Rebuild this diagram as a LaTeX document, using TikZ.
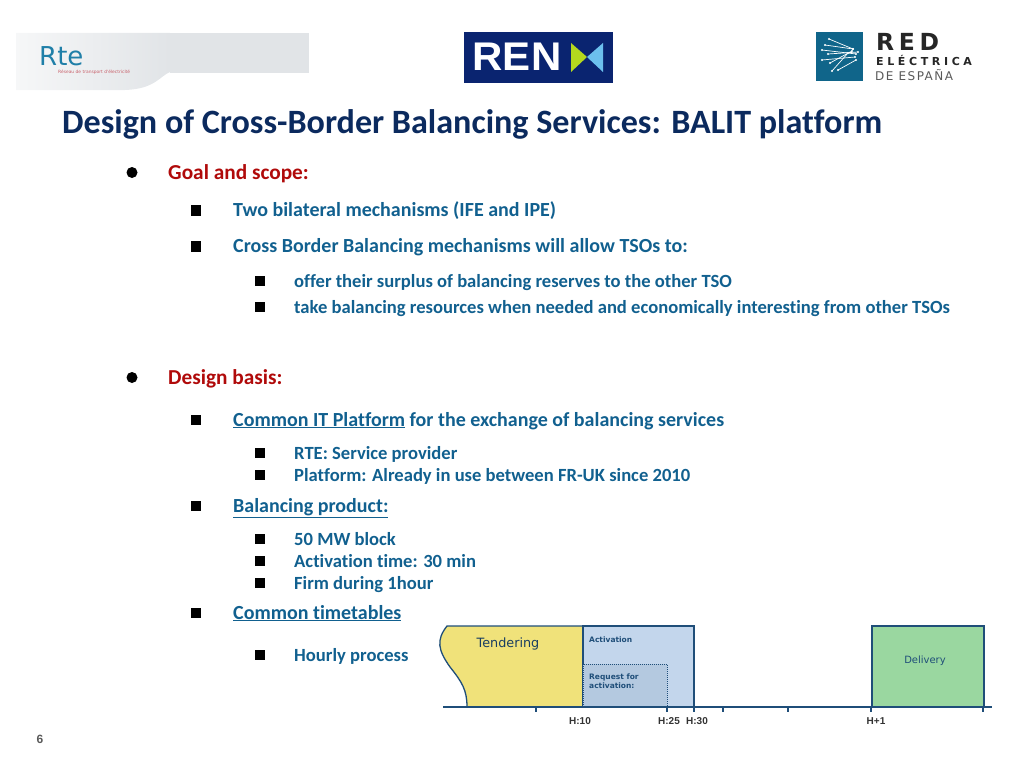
\documentclass[tikz,border=0pt]{standalone}
\usepackage{fontspec}
\setmainfont[Ligatures=NoCommon]{Carlito}
\newfontfamily\chartfont{DejaVu Sans}
\newfontfamily\axisfont{Liberation Sans}
\usepackage{xcolor}
\definecolor{titleblue}{HTML}{0B2A5E}
\definecolor{textblue}{HTML}{11608F}
\definecolor{headred}{HTML}{B00A0A}
\definecolor{axisblue}{HTML}{1F4E79}
\definecolor{chartyellow}{HTML}{F0E27A}
\definecolor{chartblue}{HTML}{C3D6EC}
\definecolor{chartdark}{HTML}{B4C9E0}
\definecolor{chartgreen}{HTML}{9AD7A0}
\definecolor{rteblue}{HTML}{1F7FA8}
\definecolor{rtegrey}{HTML}{E1E4E7}
\definecolor{rtepink}{HTML}{C8606A}
\definecolor{renblue}{HTML}{0A2470}
\definecolor{rentick}{HTML}{B4D81E}
\definecolor{rensky}{HTML}{6CC0EE}
\definecolor{reeblue}{HTML}{10658A}
\usetikzlibrary{arrows.meta}

\begin{document}
\begin{tikzpicture}[
    x=1pt, y=-1pt,
    title/.style={anchor=base west, inner sep=0pt, font=\bfseries\fontsize{34.1}{34}\selectfont, text=titleblue},
    head/.style={anchor=base west, inner sep=0pt, font=\bfseries\fontsize{21.3}{21}\selectfont, text=headred},
    item/.style={anchor=base west, inner sep=0pt, font=\bfseries\fontsize{20}{20}\selectfont, text=textblue},
    subitem/.style={anchor=base west, inner sep=0pt, font=\bfseries\fontsize{18.6}{19}\selectfont, text=textblue},
    dot/.style={circle, fill=black, inner sep=0pt, minimum size=11pt},
    bullet/.style={rectangle, fill=black, inner sep=0pt, minimum size=10.5pt},
    phase/.style={draw=axisblue, line width=1.3pt},
    chartlabel/.style={inner sep=0pt, text=axisblue, font=\chartfont\bfseries\fontsize{7.5}{9}\selectfont, align=left},
    timelabel/.style={inner sep=0pt, text=black!80, font=\axisfont\bfseries\fontsize{10}{10}\selectfont},
    tick/.style={draw=axisblue, line width=1.3pt},
    reetext/.style={anchor=base west, inner sep=0pt, text=black!85}
]
\useasboundingbox (0,0) rectangle (1024,768);

% Logos
\shade[left color=rtegrey!30, right color=rtegrey] (16,33) -- (170,33) -- (170,72) .. controls (160,76) and (155,89) .. (125,90) -- (16,90) -- cycle;
\fill[rtegrey] (170,33) rectangle (309,72.5);
\node[anchor=base west, inner sep=0pt, text=rteblue, font=\chartfont\fontsize{26}{26}\selectfont] (rte) at (39,65) {Rte};
\node[anchor=north west, inner sep=0pt, text=rtepink, font=\chartfont\fontsize{4.4}{5}\selectfont] (rtesub) at (58,69.5) {Réseau de transport d'électricité};

\node[rectangle, fill=renblue, minimum width=149pt, minimum height=51pt, inner sep=0pt] (renbox) at (538.5,57.5) {};
\node[inner sep=0pt, text=white, font=\axisfont\bfseries\fontsize{40}{40}\selectfont, xscale=1.05] (ren) at (517,57) {REN};
\fill[rentick] (571,43) -- (587,57) -- (571,72) -- cycle;
\fill[rensky] (603,43) -- (587,57) -- (603,72) -- cycle;

\node[rectangle, fill=reeblue, minimum width=47pt, minimum height=49pt, inner sep=0pt] (reebox) at (839.5,56.5) {};
\foreach \xa/\ya/\xb/\yb in {829/39/853/49, 825/45/853/49, 822/50/856/54, 828/54/858/52, 822/60/855/57, 830/63/852/51, 832/71/848/53, 838/70/856/60}{
    \draw[white, line width=0.7pt] (\xa,\ya) -- (\xb,\yb);
    \fill[white] (\xa,\ya) circle (1.2pt) (\xb,\yb) circle (1.2pt);
}
\node[reetext, font=\chartfont\bfseries\addfontfeature{LetterSpace=20}\fontsize{23.5}{24}\selectfont] (reered) at (876,50) {RED};
\node[reetext, font=\chartfont\bfseries\addfontfeature{LetterSpace=33}\fontsize{11}{12}\selectfont] (reeel) at (876,66) {ELÉCTRICA};
\node[reetext, text=black!65, font=\chartfont\addfontfeature{LetterSpace=12}\fontsize{12}{12}\selectfont] (reees) at (875,81) {DE ESPAÑA};

% Title
\node[title] (maintitle) at (62,133) {Design of Cross-Border Balancing Services: BALIT platform};

% Goal and scope
\node[dot] (d1) at (132,172.5) {};
\node[head] (goal) at (168,179) {Goal and scope:};
\node[bullet] (b1) at (196,210.5) {};
\node[item] (bilateral) at (233,216.5) {Two bilateral mechanisms (IFE and IPE)};
\node[bullet] (b2) at (196,246.5) {};
\node[item] (mechanisms) at (233,252.5) {Cross Border Balancing mechanisms will allow TSOs to:};
\node[bullet] (s1) at (260,281) {};
\node[subitem] (offer) at (294,287) {offer their surplus of balancing reserves to the other TSO};
\node[bullet] (s2) at (260,307) {};
\node[subitem] (take) at (294,313.5) {take balancing resources when needed and economically interesting from other TSOs};

% Design basis
\node[dot] (d2) at (132,377.5) {};
\node[head] (basis) at (168,384) {Design basis:};
\node[bullet] (b3) at (196,420) {};
\node[item] (platform) at (233,426) {\underline{Common IT Platform} for the exchange of balancing services};
\node[bullet] (s3) at (260,453) {};
\node[subitem] (rtesp) at (294,459) {RTE: Service provider};
\node[bullet] (s4) at (260,475) {};
\node[subitem] (inuse) at (294,481) {Platform: Already in use between FR-UK since 2010};
\node[bullet] (b4) at (196,506) {};
\node[item] (product) at (233,512) {\underline{Balancing product:}};
\node[bullet] (s5) at (260,539) {};
\node[subitem] (block) at (294,545) {50 MW block};
\node[bullet] (s6) at (260,561) {};
\node[subitem] (acttime) at (294,567) {Activation time: 30 min};
\node[bullet] (s7) at (260,583) {};
\node[subitem] (firm) at (294,589) {Firm during 1hour};
\node[bullet] (b5) at (196,613) {};
\node[item] (timetables) at (233,619) {\underline{Common timetables}};
\node[bullet] (s8) at (260,655) {};
\node[subitem] (hourly) at (294,661) {Hourly process};

% Timeline
\draw[phase, fill=chartyellow] (583,626) -- (447,626) .. controls (436,640) and (438,650) .. (450,667) .. controls (462,682) and (467,690) .. (467,707) -- (583,707) -- cycle;
\draw[phase, fill=chartblue] (583,626) rectangle (694,707);
\draw[phase, fill=chartdark, line width=1pt, densely dotted] (583,664) rectangle (667,707);
\draw[phase, fill=chartgreen] (872,626) rectangle (984,707);
\draw[tick] (443,707) -- (992,707);
\foreach \xt in {536,667,694,723,788,871,983}
    \draw[tick] (\xt,707) -- (\xt,712);

\node[chartlabel, text=axisblue!80!black, font=\chartfont\fontsize{12.8}{13}\selectfont] (tendering) at (508,644) {Tendering};
\node[chartlabel, anchor=west] (activation) at (589,640) {Activation};
\node[chartlabel, anchor=north west] (request) at (589,673.5) {Request for\\activation:};
\node[chartlabel, font=\chartfont\fontsize{10}{10}\selectfont] (delivery) at (925,661) {Delivery};

\node[timelabel] (h10) at (580,721) {H:10};
\node[timelabel] (h25) at (669,721) {H:25};
\node[timelabel] (h30) at (697,721) {H:30};
\node[timelabel] (h1) at (876,721) {H+1};

% Page number
\node[inner sep=0pt, text=black!65, font=\axisfont\bfseries\fontsize{12}{12}\selectfont] (pagenum) at (40,739) {6};
\end{tikzpicture}
\end{document}
